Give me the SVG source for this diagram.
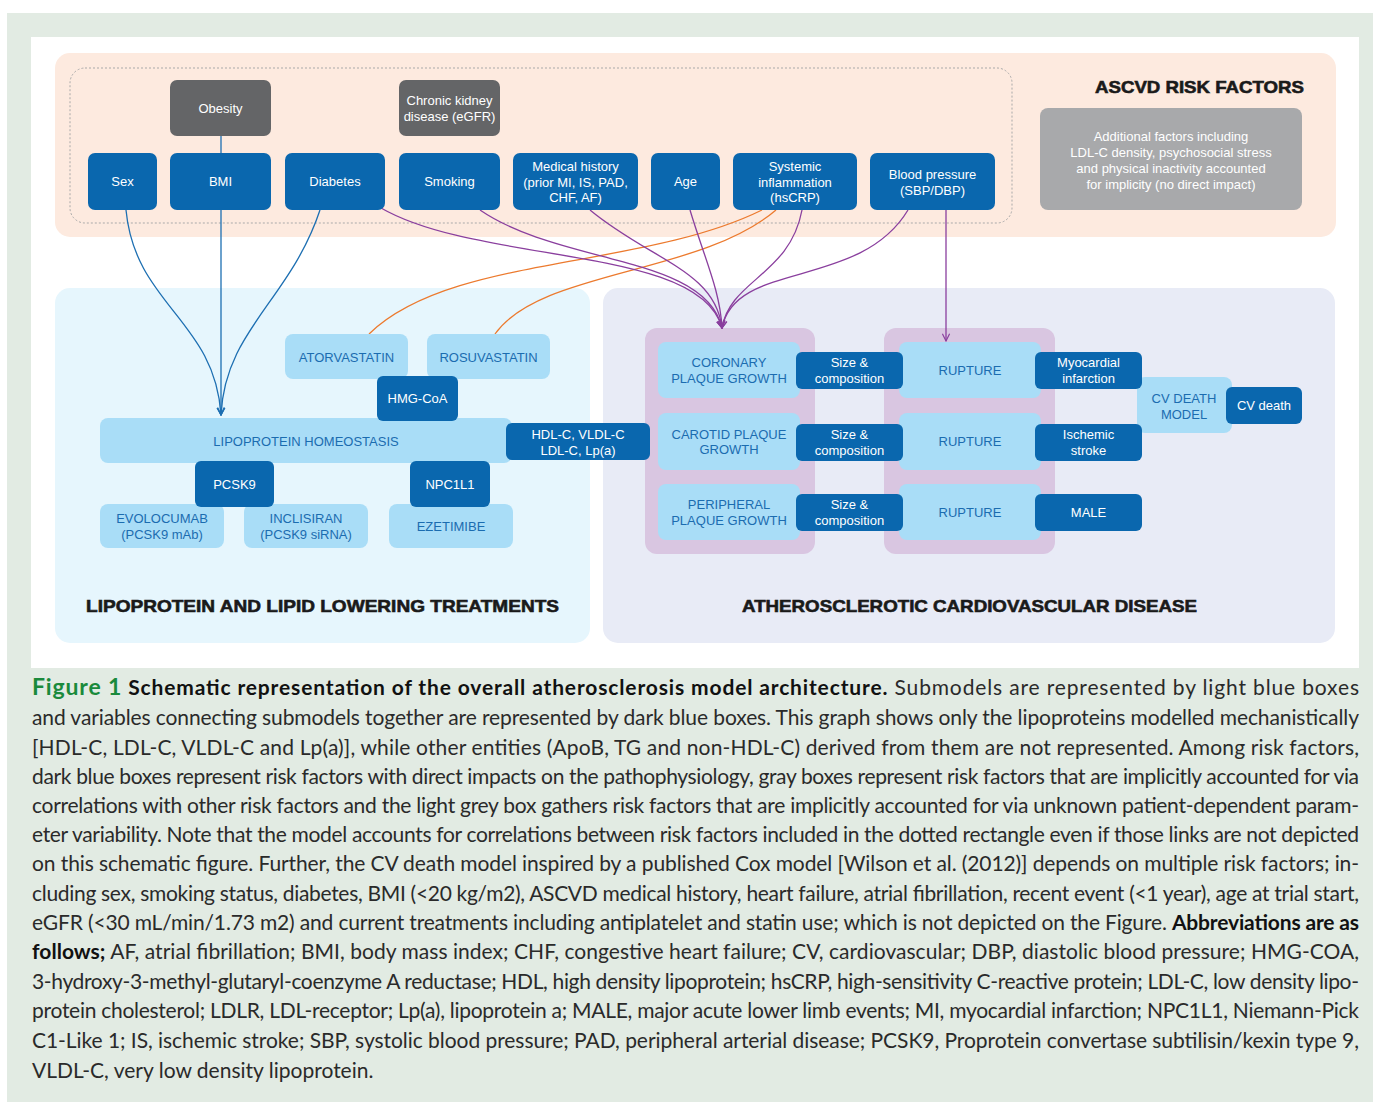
<svg xmlns="http://www.w3.org/2000/svg" width="1373" height="1102" viewBox="0 0 1373 1102">
<defs>
<style>
.dk{fill:#0a67ae}
.lt{fill:#a9ddf7}
.gr{fill:#646567}
.tw{fill:#ffffff;font-family:"Liberation Sans",Arial,sans-serif;font-size:13px;text-anchor:middle}
.tb{fill:#1b6cb0;font-family:"Liberation Sans",Arial,sans-serif;font-size:13px;text-anchor:middle}
.ttl{fill:#1a1a1a;font-family:"Liberation Sans",Arial,sans-serif;font-weight:bold;font-size:17px;stroke:#1a1a1a;stroke-width:0.6}
.cap{fill:#2a2a2a;font-family:Lato,"Open Sans",sans-serif;font-size:21px}
.b{font-weight:bold;fill:#111}
.cb{fill:none;stroke:#1d6fb2;stroke-width:1.3}
.cp{fill:none;stroke:#8a3f9e;stroke-width:1.3}
.co{fill:none;stroke:#ec7a2e;stroke-width:1.3}
</style>
<marker id="ab" viewBox="0 0 10 10" refX="9" refY="5" markerWidth="9" markerHeight="9" orient="auto" markerUnits="userSpaceOnUse"><path d="M1,1 L9,5 L1,9" fill="none" stroke="#1d6fb2" stroke-width="1.3"/></marker>
<marker id="ap" viewBox="0 0 10 10" refX="9" refY="5" markerWidth="9" markerHeight="9" orient="auto" markerUnits="userSpaceOnUse"><path d="M1,1 L9,5 L1,9" fill="none" stroke="#8a3f9e" stroke-width="1.3"/></marker>
</defs>

<!-- background -->
<rect x="7" y="13" width="1366" height="1089" fill="#e2ebe3"/>
<rect x="31" y="37" width="1328" height="631" fill="#ffffff"/>

<!-- panels -->
<g id="panel-risk">
<rect x="55" y="53" width="1281" height="184" rx="15" fill="#fdeadf"/>
<rect x="70" y="68" width="942" height="155" rx="15" fill="none" stroke="#a9a9a9" stroke-width="1" stroke-dasharray="2,2"/>
<text class="ttl" x="1304" y="93" text-anchor="end" textLength="209" lengthAdjust="spacingAndGlyphs">ASCVD RISK FACTORS</text>
</g>
<g id="panel-lipid">
<rect x="55" y="288" width="535" height="355" rx="15" fill="#e6f6fd"/>
<text class="ttl" x="86" y="612" textLength="473" lengthAdjust="spacingAndGlyphs">LIPOPROTEIN AND LIPID LOWERING TREATMENTS</text>
</g>
<g id="panel-ascvd">
<rect x="603" y="288" width="732" height="355" rx="15" fill="#e8ebf6"/>
<rect x="645" y="328" width="170" height="226" rx="12" fill="#d9c6e1"/>
<rect x="884" y="328" width="171" height="226" rx="12" fill="#d9c6e1"/>
<text class="ttl" x="742" y="612" textLength="455" lengthAdjust="spacingAndGlyphs">ATHEROSCLEROTIC CARDIOVASCULAR DISEASE</text>
</g>

<!-- connectors -->
<g id="connectors">
<path class="cb" d="M221,136 L221,153"/>
<path class="cb" d="M126,210 C135,305 215,320 221,415" marker-end="url(#ab)"/>
<path class="cb" d="M221,210 L221,415" marker-end="url(#ab)"/>
<path class="cb" d="M320,210 C290,300 225,330 221,415" marker-end="url(#ab)"/>
<path class="co" d="M762,210 C640,270 450,255 369,334"/>
<path class="co" d="M776,210 C700,275 540,270 495,334"/>
<path class="cp" d="M381,208 C480,265 700,245 722,328" marker-end="url(#ap)"/>
<path class="cp" d="M480,210 C560,265 705,255 722,328" marker-end="url(#ap)"/>
<path class="cp" d="M590,210 C650,260 715,270 722,328" marker-end="url(#ap)"/>
<path class="cp" d="M690,210 C705,260 720,290 722,328" marker-end="url(#ap)"/>
<path class="cp" d="M802,210 C790,275 730,280 722,328" marker-end="url(#ap)"/>
<path class="cp" d="M908,210 C860,290 735,260 722,328" marker-end="url(#ap)"/>
<path class="cp" d="M946,210 L946,341" marker-end="url(#ap)"/>
</g>

<!-- risk factor nodes -->
<g id="obesity"><rect class="gr" x="170" y="80" width="101" height="56" rx="7"/><text class="tw" x="220.5" y="112.5">Obesity</text></g>
<g id="ckd"><rect class="gr" x="399" y="80" width="101" height="56" rx="7"/><text class="tw" x="449.5" y="104.5">Chronic kidney</text><text class="tw" x="449.5" y="120.5">disease (eGFR)</text></g>
<g id="sex"><rect class="dk" x="88" y="153" width="69" height="57" rx="7"/><text class="tw" x="122.5" y="186">Sex</text></g>
<g id="bmi"><rect class="dk" x="170" y="153" width="101" height="57" rx="7"/><text class="tw" x="220.5" y="186">BMI</text></g>
<g id="diabetes"><rect class="dk" x="285" y="153" width="100" height="57" rx="7"/><text class="tw" x="335" y="186">Diabetes</text></g>
<g id="smoking"><rect class="dk" x="399" y="153" width="101" height="57" rx="7"/><text class="tw" x="449.5" y="186">Smoking</text></g>
<g id="medical-history"><rect class="dk" x="513" y="153" width="125" height="57" rx="7"/><text class="tw" x="575.5" y="171">Medical history</text><text class="tw" x="575.5" y="186.5">(prior MI, IS, PAD,</text><text class="tw" x="575.5" y="202">CHF, AF)</text></g>
<g id="age"><rect class="dk" x="651" y="153" width="69" height="57" rx="7"/><text class="tw" x="685.5" y="186">Age</text></g>
<g id="inflammation"><rect class="dk" x="733" y="153" width="124" height="57" rx="7"/><text class="tw" x="795" y="171">Systemic</text><text class="tw" x="795" y="186.5">inflammation</text><text class="tw" x="795" y="202">(hsCRP)</text></g>
<g id="blood-pressure"><rect class="dk" x="870" y="153" width="125" height="57" rx="7"/><text class="tw" x="932.5" y="178.5">Blood pressure</text><text class="tw" x="932.5" y="194.5">(SBP/DBP)</text></g>
<g id="additional-factors"><rect x="1040" y="108" width="262" height="102" rx="8" fill="#a8a9ab"/>
<text class="tw" x="1171" y="140.5" font-size="12.5">Additional factors including</text>
<text class="tw" x="1171" y="156.5" font-size="12.5">LDL-C density, psychosocial stress</text>
<text class="tw" x="1171" y="172.5" font-size="12.5">and physical inactivity accounted</text>
<text class="tw" x="1171" y="188.5" font-size="12.5">for implicity (no direct impact)</text></g>

<!-- lipid panel nodes -->
<g id="atorvastatin"><rect class="lt" x="285" y="334" width="123" height="45" rx="8"/><text class="tb" x="346.5" y="361.5">ATORVASTATIN</text></g>
<g id="rosuvastatin"><rect class="lt" x="427" y="334" width="123" height="45" rx="8"/><text class="tb" x="488.5" y="361.5">ROSUVASTATIN</text></g>
<g id="lipoprotein-homeostasis"><rect class="lt" x="100" y="418" width="412" height="45" rx="8"/><text class="tb" x="306" y="445.5">LIPOPROTEIN HOMEOSTASIS</text></g>
<g id="hmg-coa"><rect class="dk" x="377" y="376" width="81" height="45" rx="6"/><text class="tw" x="417.5" y="403">HMG-CoA</text></g>
<g id="evolocumab"><rect class="lt" x="100" y="504" width="124" height="44" rx="8"/><text class="tb" x="162" y="522.5">EVOLOCUMAB</text><text class="tb" x="162" y="538.5">(PCSK9 mAb)</text></g>
<g id="inclisiran"><rect class="lt" x="244" y="504" width="124" height="44" rx="8"/><text class="tb" x="306" y="522.5">INCLISIRAN</text><text class="tb" x="306" y="538.5">(PCSK9 siRNA)</text></g>
<g id="ezetimibe"><rect class="lt" x="389" y="504" width="124" height="44" rx="8"/><text class="tb" x="451" y="530.5">EZETIMIBE</text></g>
<g id="pcsk9"><rect class="dk" x="195" y="461" width="79" height="46" rx="6"/><text class="tw" x="234.5" y="488.5">PCSK9</text></g>
<g id="npc1l1"><rect class="dk" x="410" y="461" width="80" height="46" rx="6"/><text class="tw" x="450" y="488.5">NPC1L1</text></g>
<g id="lipoproteins"><rect class="dk" x="506" y="423" width="144" height="37" rx="6"/><text class="tw" x="578" y="438.5">HDL-C, VLDL-C</text><text class="tw" x="578" y="454.5">LDL-C, Lp(a)</text></g>

<!-- ASCVD panel nodes -->
<g id="coronary"><rect class="lt" x="658" y="342" width="142" height="56" rx="8"/><text class="tb" x="729" y="366.5">CORONARY</text><text class="tb" x="729" y="382.5">PLAQUE GROWTH</text></g>
<g id="carotid"><rect class="lt" x="658" y="413" width="142" height="57" rx="8"/><text class="tb" x="729" y="438.5">CAROTID PLAQUE</text><text class="tb" x="729" y="454">GROWTH</text></g>
<g id="peripheral"><rect class="lt" x="658" y="484" width="142" height="56" rx="8"/><text class="tb" x="729" y="508.5">PERIPHERAL</text><text class="tb" x="729" y="524.5">PLAQUE GROWTH</text></g>
<g id="rupture-1"><rect class="lt" x="899" y="342" width="142" height="56" rx="8"/><text class="tb" x="970" y="374.5">RUPTURE</text></g>
<g id="rupture-2"><rect class="lt" x="899" y="413" width="142" height="57" rx="8"/><text class="tb" x="970" y="446">RUPTURE</text></g>
<g id="rupture-3"><rect class="lt" x="899" y="484" width="142" height="56" rx="8"/><text class="tb" x="970" y="516.5">RUPTURE</text></g>
<g id="size-1"><rect class="dk" x="796" y="352" width="107" height="37" rx="6"/><text class="tw" x="849.5" y="367">Size &amp;</text><text class="tw" x="849.5" y="382.5">composition</text></g>
<g id="size-2"><rect class="dk" x="796" y="424" width="107" height="37" rx="6"/><text class="tw" x="849.5" y="439">Size &amp;</text><text class="tw" x="849.5" y="454.5">composition</text></g>
<g id="size-3"><rect class="dk" x="796" y="494" width="107" height="37" rx="6"/><text class="tw" x="849.5" y="509">Size &amp;</text><text class="tw" x="849.5" y="524.5">composition</text></g>
<g id="cv-death-model"><rect class="lt" x="1137" y="377" width="95" height="56" rx="8"/><text class="tb" x="1184" y="402.5">CV DEATH</text><text class="tb" x="1184" y="418.5">MODEL</text></g>
<g id="mi"><rect class="dk" x="1035" y="352" width="107" height="37" rx="6"/><text class="tw" x="1088.5" y="367">Myocardial</text><text class="tw" x="1088.5" y="382.5">infarction</text></g>
<g id="stroke"><rect class="dk" x="1035" y="424" width="107" height="37" rx="6"/><text class="tw" x="1088.5" y="439">Ischemic</text><text class="tw" x="1088.5" y="454.5">stroke</text></g>
<g id="male"><rect class="dk" x="1035" y="494" width="107" height="37" rx="6"/><text class="tw" x="1088.5" y="516.5">MALE</text></g>
<g id="cv-death"><rect class="dk" x="1226" y="387" width="76" height="37" rx="6"/><text class="tw" x="1264" y="410">CV death</text></g>

<!-- caption -->
<g id="caption">
<text class="cap" x="32" y="695" textLength="1327" lengthAdjust="spacing"><tspan class="b" style="fill:#1a8a3c" font-size="23">Figure 1</tspan><tspan class="b"> Schematic representation of the overall atherosclerosis model architecture.</tspan> Submodels are represented by light blue boxes</text>
<text class="cap" x="32" y="725" textLength="1327" lengthAdjust="spacing">and variables connecting submodels together are represented by dark blue boxes. This graph shows only the lipoproteins modelled mechanistically</text>
<text class="cap" x="32" y="755" textLength="1327" lengthAdjust="spacing">[HDL-C, LDL-C, VLDL-C and Lp(a)], while other entities (ApoB, TG and non-HDL-C) derived from them are not represented. Among risk factors,</text>
<text class="cap" x="32" y="784" textLength="1327" lengthAdjust="spacing">dark blue boxes represent risk factors with direct impacts on the pathophysiology, gray boxes represent risk factors that are implicitly accounted for via</text>
<text class="cap" x="32" y="813" textLength="1327" lengthAdjust="spacing">correlations with other risk factors and the light grey box gathers risk factors that are implicitly accounted for via unknown patient-dependent param-</text>
<text class="cap" x="32" y="842" textLength="1327" lengthAdjust="spacing">eter variability. Note that the model accounts for correlations between risk factors included in the dotted rectangle even if those links are not depicted</text>
<text class="cap" x="32" y="871" textLength="1327" lengthAdjust="spacing">on this schematic figure. Further, the CV death model inspired by a published Cox model [Wilson et al. (2012)] depends on multiple risk factors; in-</text>
<text class="cap" x="32" y="901" textLength="1327" lengthAdjust="spacing">cluding sex, smoking status, diabetes, BMI (&lt;20 kg/m2), ASCVD medical history, heart failure, atrial fibrillation, recent event (&lt;1 year), age at trial start,</text>
<text class="cap" x="32" y="930" textLength="1327" lengthAdjust="spacing">eGFR (&lt;30 mL/min/1.73 m2) and current treatments including antiplatelet and statin use; which is not depicted on the Figure. <tspan class="b">Abbreviations are as</tspan></text>
<text class="cap" x="32" y="959" textLength="1327" lengthAdjust="spacing"><tspan class="b">follows;</tspan> AF, atrial fibrillation; BMI, body mass index; CHF, congestive heart failure; CV, cardiovascular; DBP, diastolic blood pressure; HMG-COA,</text>
<text class="cap" x="32" y="989" textLength="1327" lengthAdjust="spacing">3-hydroxy-3-methyl-glutaryl-coenzyme A reductase; HDL, high density lipoprotein; hsCRP, high-sensitivity C-reactive protein; LDL-C, low density lipo-</text>
<text class="cap" x="32" y="1018" textLength="1327" lengthAdjust="spacing">protein cholesterol; LDLR, LDL-receptor; Lp(a), lipoprotein a; MALE, major acute lower limb events; MI, myocardial infarction; NPC1L1, Niemann-Pick</text>
<text class="cap" x="32" y="1048" textLength="1327" lengthAdjust="spacing">C1-Like 1; IS, ischemic stroke; SBP, systolic blood pressure; PAD, peripheral arterial disease; PCSK9, Proprotein convertase subtilisin/kexin type 9,</text>
<text class="cap" x="32" y="1078">VLDL-C, very low density lipoprotein.</text>
</g>
</svg>
